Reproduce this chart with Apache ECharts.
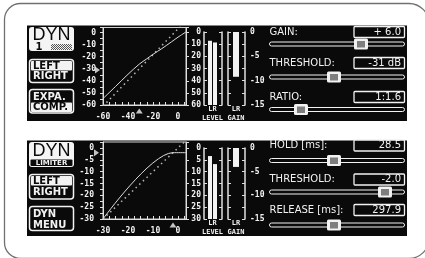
<!DOCTYPE html>
<html>
<head>
<meta charset="utf-8">
<script src="https://cdn.jsdelivr.net/npm/echarts@6/dist/echarts.min.js"></script>
<style>
html, body { margin: 0; padding: 0; background: #fff; }
#chart { width: 425px; height: 258px; }
</style>
</head>
<body>
<div id="chart"></div>
<script>
// panel 1: compressor (input dB -> output dB)
var comp_in_out = [[-60, -54.7], [-50, -44.7], [-40, -34.6], [-31, -26.2], [-25, -21.8], [-20, -18.1], [-13, -13.4], [-5, -7.6], [0, -3.9], [6.4, 0.4]];
var comp_ref = [[-60, -61], [6.4, 9.8]];
var comp_thr = -31;
var comp_level = [-7.2, -8.6];   // L, R
var comp_gain = [-9.2, -9.2];    // L, R
var comp_params = ['GAIN:', 'THRESHOLD:', 'RATIO:'];
var comp_values = ['+ 6.0', '-31 dB', '1:1.6'];
var comp_slider = [67.8, 47.8, 23.7]; // knob position, % of track

// panel 2: limiter
var lim_in_out = [[-30, -30], [-2, -2], [3.2, -2]];
var lim_ref = [[-30, -30], [3.2, 3.2]];
var lim_thr = -2;
var lim_level = [-3.4, -6.8];
var lim_gain = [-4, -4];
var lim_params = ['HOLD [ms]:', 'THRESHOLD:', 'RELEASE [ms]:'];
var lim_values = ['28.5', '-2.0', '297.9'];
var lim_slider = [47.8, 85.6, 47.8];

var INK = '#f2f2f2';
var LCD = '#0a0a0a';
var LINE = '#e0e0e0';
var MONO = '"DejaVu Sans Mono", monospace';
var BTN_FONT = 'bold 10px "DejaVu Sans", sans-serif';
var PAR_FONT = '10px "DejaVu Sans", sans-serif';

var grids = [], xAxes = [], yAxes = [], series = [];

function addGrid (g) {
  grids.push(g)
  return grids.length - 1
}

function labelStyle (size) {
  return { color: INK, fontFamily: MONO, fontSize: size, fontWeight: 'bold' }
}

function transfer (box, xr, yr, step, xEvery, yEvery, yMargin, curve, ref, thr, markOff) {
  var gi = addGrid({ left: box.left, top: box.top, width: box.width, height: box.height, show: true, borderColor: '#d4d4d4', borderWidth: 1 })
  var xi = xAxes.push({
    gridIndex: gi, type: 'value', min: xr[0], max: xr[1], interval: step,
    axisLine: { onZero: false, lineStyle: { color: LINE } },
    axisTick: { inside: true, length: 3, lineStyle: { color: LINE } },
    splitLine: { show: false },
    axisLabel: Object.assign(labelStyle(8), { margin: 8, formatter: function (v) { return v % xEvery === 0 ? String(v) : '' } })
  }) - 1
  var yi = yAxes.push({
    gridIndex: gi, type: 'value', min: yr[0], max: yr[1], interval: step,
    axisLine: { onZero: false, lineStyle: { color: LINE } },
    axisTick: { length: 3, lineStyle: { color: LINE } },
    splitLine: { show: false },
    axisLabel: Object.assign(labelStyle(8), { margin: yMargin, formatter: function (v) { return v % yEvery === 0 ? String(v) : '' } })
  }) - 1
  yAxes.push({
    gridIndex: gi, type: 'value', position: 'right', min: yr[0], max: yr[1], interval: step * 2,
    axisLine: { onZero: false, lineStyle: { color: LINE } },
    axisTick: { length: 3, lineStyle: { color: LINE } },
    splitLine: { show: false }, axisLabel: { show: false }
  })
  series.push({
    type: 'line', xAxisIndex: xi, yAxisIndex: yi, data: ref, showSymbol: false, silent: true,
    lineStyle: { color: '#b8b8b8', width: 1.5, type: [1.5, 3.5] }
  })
  series.push({
    type: 'line', xAxisIndex: xi, yAxisIndex: yi, data: curve, showSymbol: false, silent: true, smooth: 0.3,
    lineStyle: { color: '#dcdcdc', width: 1 }
  })
  series.push({
    type: 'scatter', xAxisIndex: xi, yAxisIndex: yi, data: [[xr[0], thr]], clip: false, silent: true,
    symbol: 'triangle', symbolSize: [7, 5], symbolRotate: -90, symbolOffset: [markOff, 0],
    itemStyle: { color: INK }
  })
  series.push({
    type: 'scatter', xAxisIndex: xi, yAxisIndex: yi, data: [[thr, yr[0]]], clip: false, silent: true,
    symbol: 'triangle', symbolSize: [7, 5], symbolOffset: [0, 6],
    itemStyle: { color: INK }
  })
}

function bracketAxis (gi, pos, min, max, step, label, off) {
  return {
    gridIndex: gi, type: 'value', position: pos, min: min, max: max, interval: step, offset: off,
    axisLine: { show: true, onZero: false, lineStyle: { color: LINE, width: 1.5 } },
    axisTick: { show: true, inside: true, length: 3, lineStyle: { color: LINE } },
    splitLine: { show: false },
    axisLabel: label ? Object.assign(labelStyle(8), label) : { show: false }
  }
}

function meterX (gi, name) {
  return {
    gridIndex: gi, type: 'category', data: ['LR'],
    axisLine: { show: false, onZero: false }, axisTick: { show: false },
    axisLabel: Object.assign(labelStyle(7), { margin: 1 }),
    name: name, nameLocation: 'middle', nameGap: 10, nameTextStyle: labelStyle(7)
  }
}

function levelMeter (top, height, range, levels) {
  var gi = addGrid({ left: 206, top: top, width: 13, height: height })
  var xi = xAxes.push(meterX(gi, 'LEVEL')) - 1
  var yi = yAxes.push(bracketAxis(gi, 'left', 0, range, range / 6,
    { margin: 3, formatter: function (v) { return String(range - v) } }, 2)) - 1
  yAxes.push(bracketAxis(gi, 'right', 0, range, range / 6, null, 3))
  levels.forEach(function (lv) {
    series.push({
      type: 'bar', xAxisIndex: xi, yAxisIndex: yi, data: [range + lv], barWidth: 4, barGap: '25%',
      itemStyle: { color: INK }, silent: true
    })
  })
}

function gainMeter (top, height, gains) {
  var gi = addGrid({ left: 228, top: top, width: 16, height: height })
  var xi = xAxes.push(meterX(gi, 'GAIN')) - 1
  var yi = yAxes.push(bracketAxis(gi, 'left', -15, 0, 2.5, null, 0)) - 1
  yAxes.push(bracketAxis(gi, 'right', -15, 0, 2.5,
    { margin: 5, formatter: function (v) { return v % 5 === 0 ? String(v) : '' } }, 1))
  gains.forEach(function (g) {
    series.push({
      type: 'bar', xAxisIndex: xi, yAxisIndex: yi, data: [g], barWidth: 3, barGap: '0%',
      itemStyle: { color: INK }, silent: true
    })
  })
}

function renderSlider (params, api) {
  var cs = params.coordSys
  var p = api.coord([api.value(0), api.value(1)])
  var cx = Math.round(p[0])
  var cy = cs.y + cs.height / 2
  var kids = [
    { type: 'rect', shape: { x: cs.x + 0.5, y: cy - 2, width: cs.width - 1, height: 4, r: 2 }, style: { fill: LCD, stroke: INK, lineWidth: 1 } },
    { type: 'rect', shape: { x: cx - 7, y: cy - 5.5, width: 14, height: 11, r: 1.5 }, style: { fill: INK } }
  ]
  for (var k = -3; k <= 3; k += 2) {
    kids.push({ type: 'line', shape: { x1: cx + k, y1: cy - 3, x2: cx + k, y2: cy + 3.5 }, style: { stroke: LCD, lineWidth: 1 } })
  }
  return { type: 'group', children: kids }
}

function slider (trackY, pos) {
  var gi = addGrid({ left: 269, top: trackY - 6, width: 136, height: 12 })
  var xi = xAxes.push({ gridIndex: gi, type: 'value', min: 0, max: 100, show: false }) - 1
  var yi = yAxes.push({ gridIndex: gi, type: 'value', min: -1, max: 1, show: false }) - 1
  series.push({ type: 'custom', xAxisIndex: xi, yAxisIndex: yi, data: [[pos, 0]], renderItem: renderSlider, silent: true })
}

// ---- graphic helpers
var gfx = []
function txt (x, y, s, font, color, align) {
  gfx.push({
    type: 'text', x: x, y: y, silent: true, z: 3,
    style: { text: s, font: font, fill: color, textAlign: align || 'left', align: align || 'left', textVerticalAlign: 'middle', verticalAlign: 'middle' }
  })
}
function rect (x, y, w, h, r, style, z) {
  gfx.push({ type: 'rect', silent: true, z: z === undefined ? 1 : z, shape: { x: x, y: y, width: w, height: h, r: r }, style: style })
}

// hatched fill for the DYN 1 tag
var pat = document.createElement('canvas')
pat.width = 2; pat.height = 2
var pctx = pat.getContext('2d')
pctx.fillStyle = '#f4f4f4'; pctx.fillRect(0, 0, 2, 2)
pctx.fillStyle = '#555'; pctx.fillRect(0, 0, 1, 1); pctx.fillRect(1, 1, 1, 1)

// outer frame and LCD panels
rect(4.5, 3.5, 424.5, 255, [16, 20, 20, 16], { fill: '#fff', stroke: '#707070', lineWidth: 1.3 }, -2)
rect(27, 25.5, 380, 95.5, 0, { fill: LCD }, -1)
rect(27, 140.5, 380, 95.5, 0, { fill: LCD }, -1)

// panel 1 buttons
rect(29, 27, 45, 24, 3, { fill: '#f4f4f4' })
txt(51.5, 35.5, 'DYN', '18px "Liberation Sans", sans-serif', LCD, 'center')
txt(39, 47, '1', BTN_FONT, LCD, 'center')
rect(51, 44, 21, 6, 0, { fill: { image: pat, repeat: 'repeat' } }, 2)

rect(29.5, 59.5, 44, 23, 3, { fill: LCD, stroke: INK, lineWidth: 1.5 })
rect(31, 61, 41, 9.5, 1, { fill: INK }, 2)
txt(33, 66, 'LEFT', BTN_FONT, LCD)
txt(33, 76.5, 'RIGHT', BTN_FONT, INK)

rect(29.5, 89.5, 44, 23.5, 3, { fill: LCD, stroke: INK, lineWidth: 1.5 })
rect(31, 102.5, 41, 9.5, 1, { fill: INK }, 2)
txt(33, 97.5, 'EXPA.', BTN_FONT, INK)
txt(33, 107.5, 'COMP.', BTN_FONT, LCD)

// panel 2 buttons
rect(29, 142, 45, 25, 3, { fill: '#f4f4f4' })
txt(51.5, 151, 'DYN', '18px "Liberation Sans", sans-serif', LCD, 'center')
rect(30.5, 159.5, 42, 6.5, 1, { fill: LCD }, 2)
txt(51.5, 163, 'LIMITER', 'bold 7px "DejaVu Sans", sans-serif', INK, 'center')

rect(29.5, 174.5, 44, 24.5, 3, { fill: LCD, stroke: INK, lineWidth: 1.5 })
rect(31, 176, 41, 9.5, 1, { fill: INK }, 2)
txt(33, 181, 'LEFT', BTN_FONT, LCD)
txt(33, 192, 'RIGHT', BTN_FONT, INK)

rect(29.5, 206.5, 44, 24, 3, { fill: LCD, stroke: INK, lineWidth: 1.5 })
txt(33, 214, 'DYN', BTN_FONT, INK)
txt(33, 225, 'MENU', BTN_FONT, INK)

// parameter rows
function paramRows (names, values, positions, labelY, boxTop, trackY) {
  names.forEach(function (n, i) {
    txt(269.5, labelY[i], n, PAR_FONT, INK)
    rect(354, boxTop[i] - 0.5, 50.5, 11, 1, { fill: LCD, stroke: INK, lineWidth: 1.3 })
    txt(401, boxTop[i] + 5.2, values[i], PAR_FONT, INK, 'right')
    slider(trackY[i], positions[i])
  })
}

// ---- build the chart parts
transfer({ left: 103, top: 27.5, width: 83, height: 77.5 }, [-60, 6.4], [-60, 4.1], 5, 20, 10, 7,
  comp_in_out, comp_ref, comp_thr, -5.5)
levelMeter(32, 73, 60, comp_level)
gainMeter(32, 73, comp_gain)
paramRows(comp_params, comp_values, comp_slider, [32, 63, 97], [27, 58, 92], [44, 77, 109.5])

transfer({ left: 103, top: 142, width: 83, height: 77 }, [-30, 3.2], [-30, 2.5], 2.5, 10, 5, 9,
  lim_in_out, lim_ref, lim_thr, -6.5)
levelMeter(148, 71, 30, lim_level)
gainMeter(148, 71, lim_gain)
paramRows(lim_params, lim_values, lim_slider, [145, 179.5, 210.5], [140.5, 174.5, 205], [160.5, 192, 225])

var chart = echarts.init(document.getElementById('chart'))
chart.setOption({
  animation: false,
  backgroundColor: '#fff',
  graphic: { elements: gfx },
  grid: grids,
  xAxis: xAxes,
  yAxis: yAxes,
  series: series
})
</script>
</body>
</html>
